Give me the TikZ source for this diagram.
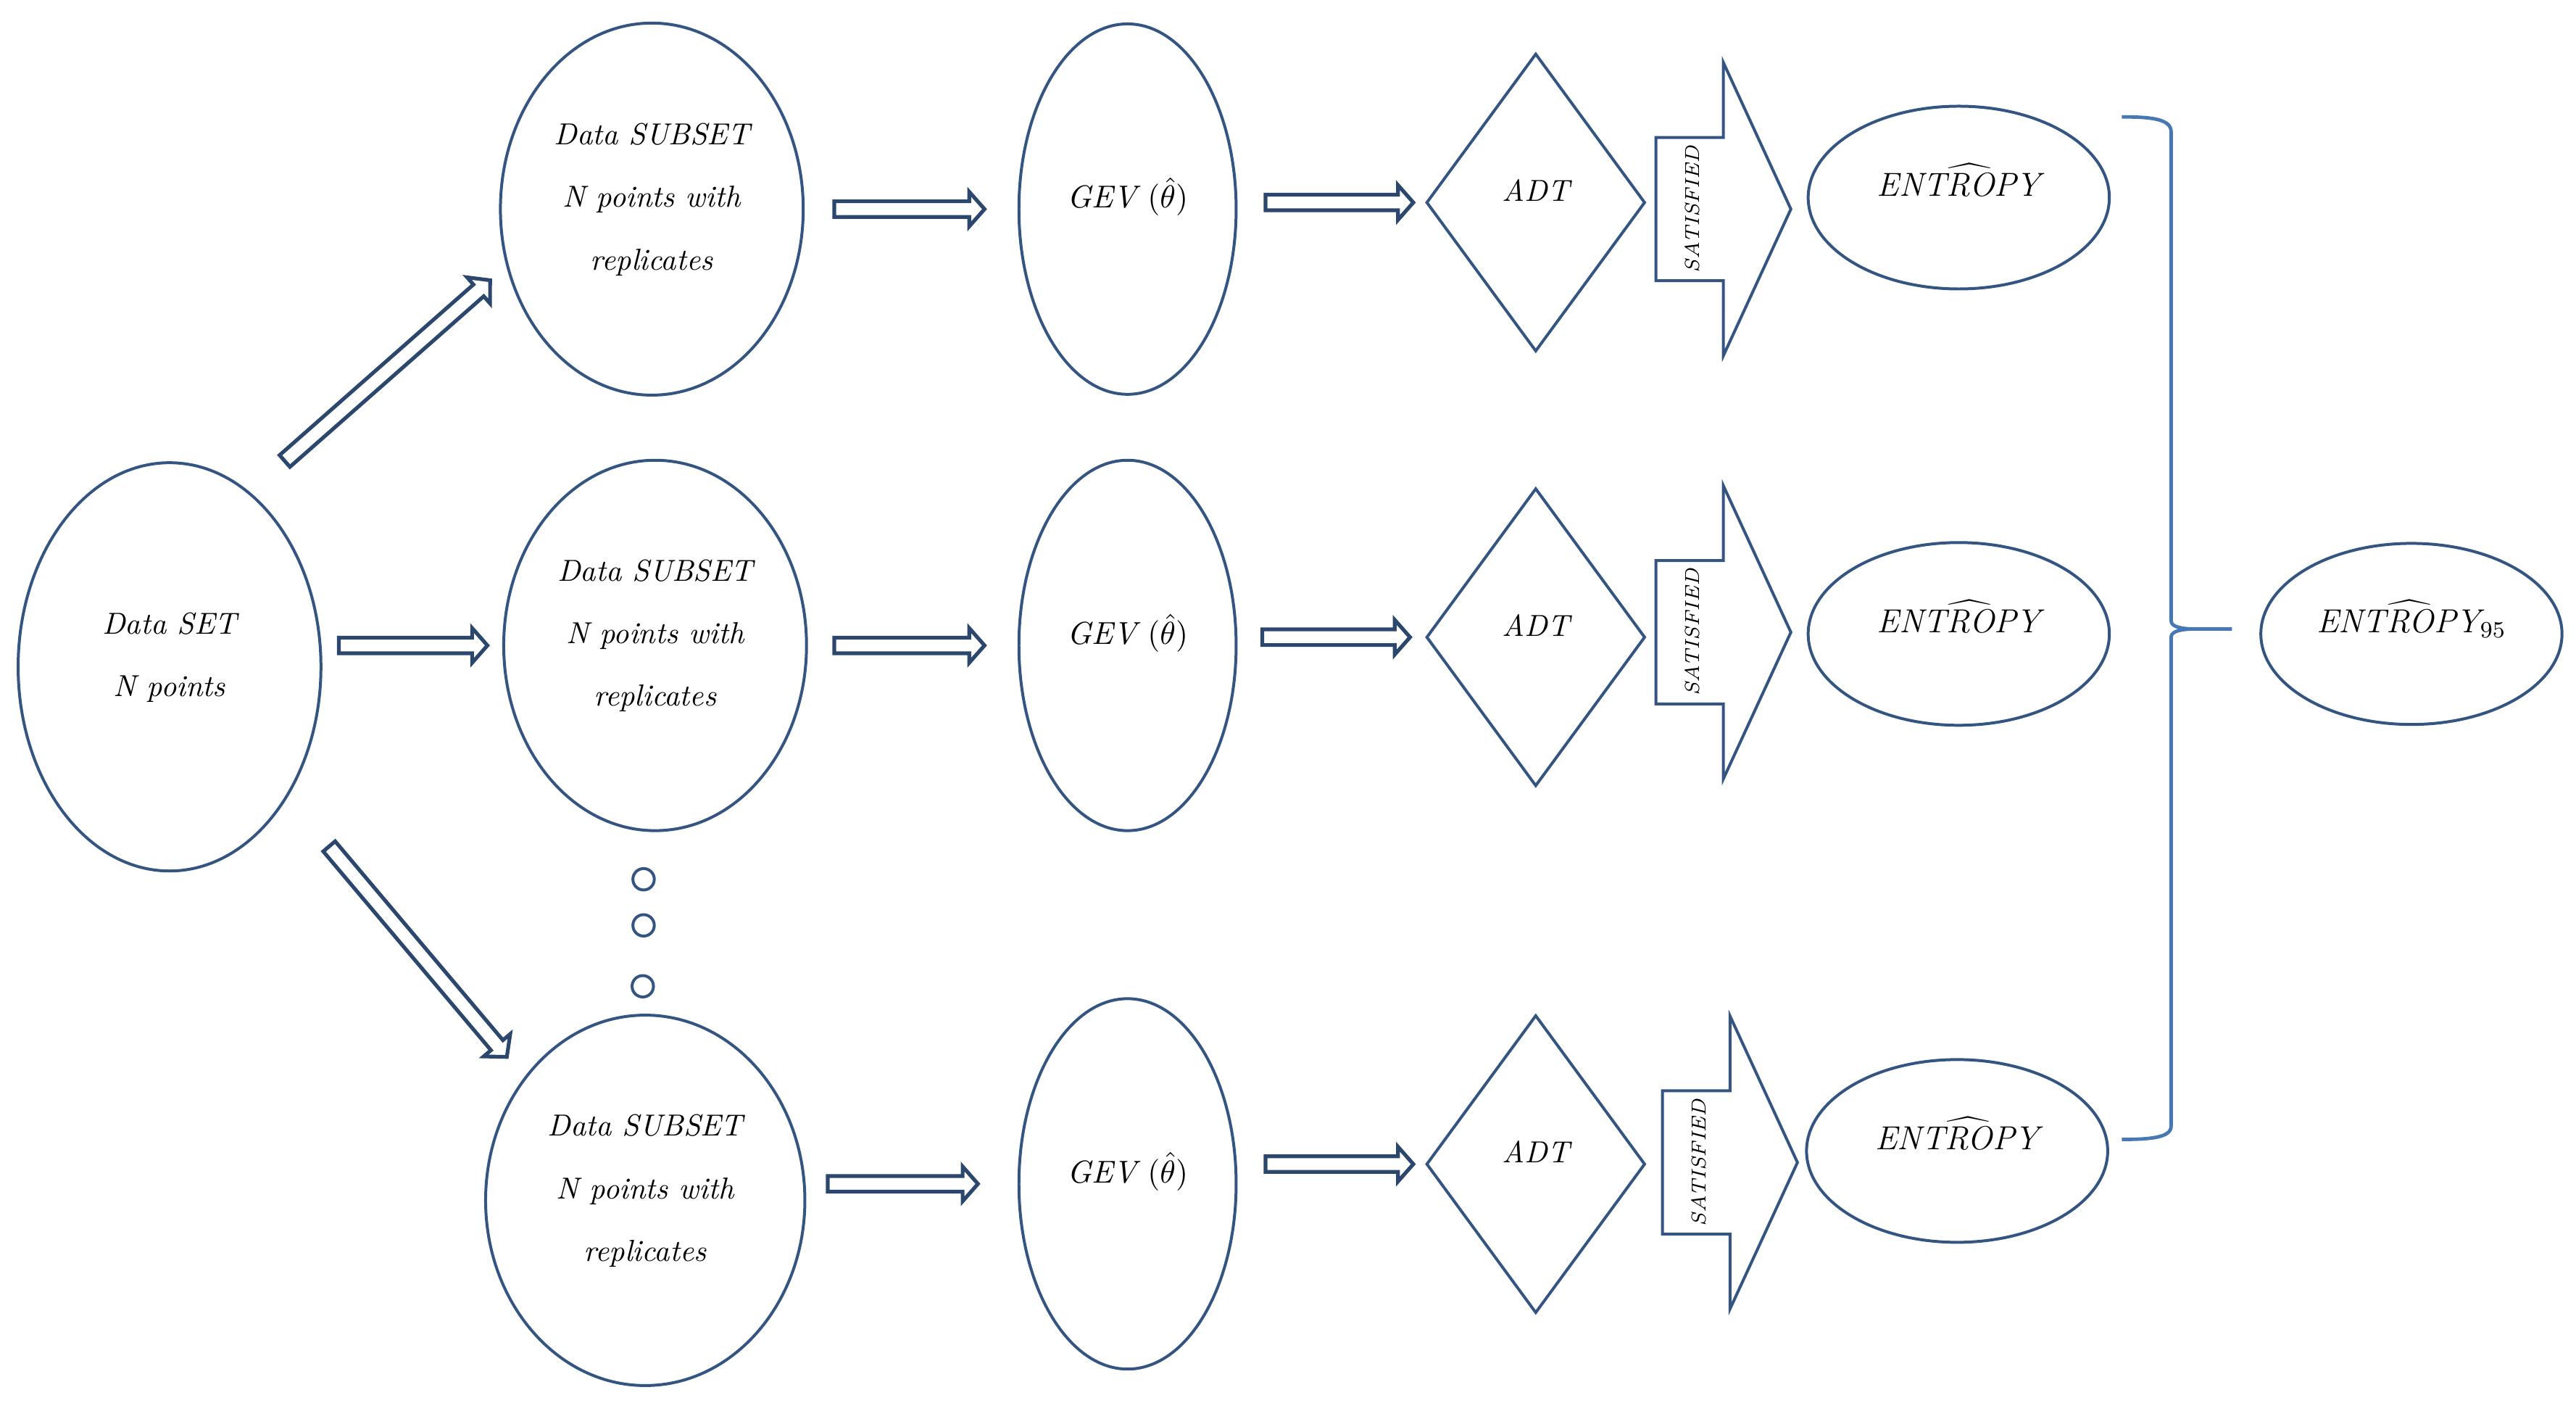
\documentclass[tikz,border=0pt]{standalone}
\usetikzlibrary{calc,shapes.geometric}
\definecolor{shapeblue}{RGB}{52,84,130}
\definecolor{braceblue}{RGB}{70,120,180}
\tikzset{
	oval/.style={ellipse, draw=shapeblue, line width=1pt, inner sep=0pt, align=center, font=\fontsize{10.5}{21.6}\selectfont\itshape},
	lift/.style={text height=7.2pt, text depth=8pt},
	adtbox/.style={diamond, draw=shapeblue, line width=1pt, inner sep=0pt, minimum width=2.66cm, minimum height=3.62cm, lift, font=\fontsize{10.5}{12}\selectfont\itshape},
	hollowarr/.style={draw=shapeblue!85!black, line width=1.3pt, line join=miter},
	satarrow/.style={draw=shapeblue, line width=1pt, line join=miter},
	sattext/.style={rotate=90, inner sep=0pt, font=\fontsize{7}{8}\selectfont\itshape},
	bracepath/.style={draw=braceblue, line width=1.2pt}
}
% hollow block arrow from #1 to #2
\newcommand{\hollow}[2]{\draw[hollowarr] let \p1=(#1), \p2=(#2), \n1={atan2(\y2-\y1,\x2-\x1)}, \n2={veclen(\x2-\x1,\y2-\y1)} in
	([shift={(\p1)},rotate=\n1]0pt,-2.7pt) -- ([shift={(\p1)},rotate=\n1]{\n2*1pt-5.3pt},-2.7pt)
	-- ([shift={(\p1)},rotate=\n1]{\n2*1pt-5.3pt},-6pt) -- ([shift={(\p1)},rotate=\n1]{\n2*1pt},0pt)
	-- ([shift={(\p1)},rotate=\n1]{\n2*1pt-5.3pt},6pt) -- ([shift={(\p1)},rotate=\n1]{\n2*1pt-5.3pt},2.7pt)
	-- ([shift={(\p1)},rotate=\n1]0pt,2.7pt) -- cycle;}
% SATISFIED arrow: left x, centre y, name
\newcommand{\satisfied}[3]{\draw[satarrow] (#1,#2+43.5) -- (#1+41,#2+43.5) -- (#1+41,#2+89) -- (#1+82,#2) -- (#1+41,#2-89) -- (#1+41,#2-43.5) -- (#1,#2-43.5) -- cycle;
	\node[sattext] (#3) at (#1+22,#2) {SATISFIED};}
\newcommand{\entropy}{\fontsize{11.5}{14}\selectfont EN$\widehat{\hbox{TROP}}$Y}

\begin{document}
\begin{tikzpicture}[x=0.02cm, y=0.02cm]
	%%%%% START %%%%%
	\useasboundingbox (0,0) rectangle (1565,852);
	
	\node[oval, minimum width=3.68cm, minimum height=4.96cm] (ds) at (103,447) {Data SET\\N points\\[-13pt]\mbox{}};
	
	\node[oval, minimum width=3.68cm, minimum height=4.52cm] (sub1) at (396,725) {Data SUBSET\\N points with\\replicates\\[-13pt]\mbox{}};
	\node[oval, minimum width=3.68cm, minimum height=4.5cm] (sub2) at (398,460) {Data SUBSET\\N points with\\replicates\\[-13pt]\mbox{}};
	\node[oval, minimum width=3.88cm, minimum height=4.5cm] (sub3) at (392,123) {Data SUBSET\\N points with\\replicates\\[-13pt]\mbox{}};
	
	\draw[shapeblue, line width=1pt] (391,318) circle (0.13cm);
	\draw[shapeblue, line width=1pt] (391,290) circle (0.13cm);
	\draw[shapeblue, line width=1pt] (390.5,253) circle (0.13cm);
	
	\node[oval, lift, minimum width=2.64cm, minimum height=4.5cm] (gev1) at (685,725) {$\mathit{GEV}\,(\hat{\theta})$};
	\node[oval, lift, minimum width=2.64cm, minimum height=4.5cm] (gev2) at (685,460) {$\mathit{GEV}\,(\hat{\theta})$};
	\node[oval, lift, minimum width=2.64cm, minimum height=4.5cm] (gev3) at (685,133) {$\mathit{GEV}\,(\hat{\theta})$};
	
	\node[adtbox] (adt1) at (933,729) {ADT};
	\node[adtbox] (adt2) at (933,465) {ADT};
	\node[adtbox] (adt3) at (933,145) {ADT};
	
	\satisfied{1006}{725}{sat1}
	\satisfied{1006}{468}{sat2}
	\satisfied{1010}{146}{sat3}
	
	\node[oval, lift, minimum width=3.66cm, minimum height=2.22cm] (ent1) at (1190,732) {\entropy};
	\node[oval, lift, minimum width=3.66cm, minimum height=2.22cm] (ent2) at (1190,467) {\entropy};
	\node[oval, lift, minimum width=3.66cm, minimum height=2.22cm] (ent3) at (1189,153) {\entropy};
	
	\node[oval, lift, minimum width=3.66cm, minimum height=2.2cm] (ent95) at (1465,467) {\entropy$_{95}$};
	
	\hollow{$(ds)+(70,125)$}{$(sub1)+(-98,-43)$}
	\hollow{$(sub2.west -| ds.east)+(10,0)$}{$(sub2.west)+(-9,0)$}
	\hollow{$(ds)+(97,-109)$}{$(sub3)+(-84,87)$}
	
	\hollow{$(gev1.west -| sub1.east)+(18,0)$}{$(gev1.west)+(-20,0)$}
	\hollow{$(gev2.west -| sub2.east)+(16,0)$}{$(gev2.west)+(-20,0)$}
	\hollow{$(gev3.west -| sub3.east)+(13,0)$}{$(gev3.west)+(-24,0)$}
	
	\hollow{$(adt1.west -| gev1.east)+(17,0)$}{$(adt1.west)+(-7,0)$}
	\hollow{$(adt2.west -| gev2.east)+(15,0)$}{$(adt2.west)+(-9,0)$}
	\hollow{$(adt3.west -| gev3.east)+(17,0)$}{$(adt3.west)+(-7,0)$}
	
	% brace
	\draw[bracepath] (1289,781) .. controls (1306,781) and (1319,780) .. (1319,772) -- (1319,475)
		.. controls (1319,471) and (1326,470) .. (1334,470) -- (1356,470) -- (1334,470)
		.. controls (1326,470) and (1319,469) .. (1319,465) -- (1319,168)
		.. controls (1319,161) and (1306,160) .. (1289,160);
	
	%%%%% END %%%%%
\end{tikzpicture}
\end{document}
